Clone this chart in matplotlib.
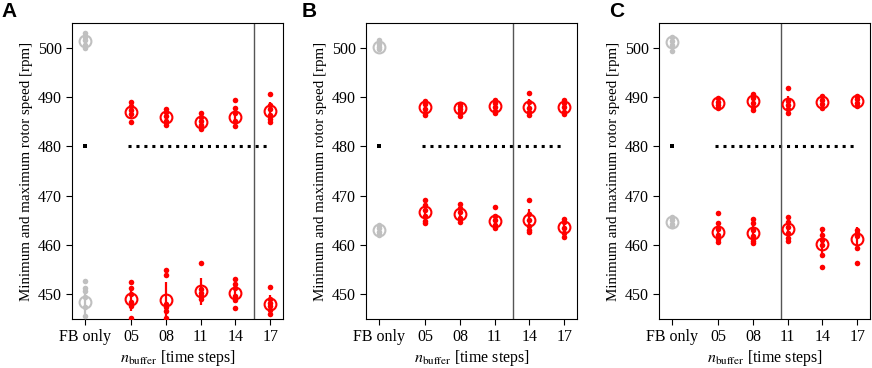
import numpy as np
import matplotlib
matplotlib.use("Agg")
import matplotlib.pyplot as plt

plt.rcParams['font.family'] = ['Liberation Serif', 'DejaVu Serif']
plt.rcParams['mathtext.fontset'] = 'stix'

groups = ["FB only", "05", "08", "11", "14", "17"]
xpos = [1, 5, 8, 11, 14, 17]
panel_letters = ["A", "B", "C"]
vline_x = [15.6, 12.6, 10.45]
target = 480

# individual runs, maximum rotor speed [rpm]
upper_A = [[502.9, 502.2, 501.5, 500.6, 499.9],
           [488.9, 488.2, 487.4, 486.5, 485.0],
           [487.6, 487.0, 486.2, 485.2, 484.4],
           [486.7, 486.0, 485.2, 484.3, 483.6],
           [489.3, 487.8, 486.8, 485.2, 484.2],
           [490.6, 488.3, 487.6, 486.4, 485.6, 484.9]]
upper_B = [[501.6, 500.8, 500.2, 499.8],
           [489.2, 488.6, 487.6, 486.8, 486.4],
           [488.6, 488.2, 487.6, 486.9, 486.1],
           [489.3, 488.8, 487.9, 487.2, 486.8],
           [490.9, 488.9, 487.8, 487.0, 486.4],
           [489.4, 488.7, 487.9, 487.0, 486.6]]
upper_C = [[502.1, 501.4, 500.6, 499.4],
           [489.7, 489.0, 488.4, 487.8],
           [490.6, 489.8, 488.7, 487.9, 487.4],
           [491.9, 489.2, 488.3, 487.5, 486.8],
           [490.2, 489.4, 488.5, 487.7],
           [490.3, 489.6, 488.8, 488.2]]

# individual runs, minimum rotor speed [rpm]
lower_A = [[452.8, 451.2, 450.6, 449.5, 447.5, 445.6],
           [452.6, 451.3, 450.0, 448.4, 447.6, 445.2],
           [455.0, 453.9, 448.1, 447.4, 446.7, 445.2],
           [456.4, 451.0, 450.2, 449.6, 449.0],
           [453.2, 452.1, 451.2, 449.6, 448.8, 447.3],
           [451.4, 449.0, 448.3, 447.6, 446.8, 446.0]]
lower_B = [[464.0, 463.4, 462.6, 462.0],
           [469.1, 468.2, 467.0, 465.8, 464.9, 464.4],
           [468.4, 467.6, 466.6, 465.4, 464.7],
           [467.8, 465.9, 465.0, 464.1, 463.5],
           [469.2, 466.3, 465.0, 463.9, 463.1, 462.7],
           [465.2, 464.6, 463.4, 462.4, 461.7]]
lower_C = [[465.6, 465.0, 464.2, 463.8],
           [466.5, 464.4, 463.2, 462.0, 461.2, 460.6],
           [465.2, 464.4, 463.0, 461.8, 460.9, 460.4],
           [465.6, 464.6, 463.6, 462.4, 461.4, 460.8],
           [463.3, 462.0, 461.0, 460.0, 457.9, 455.6],
           [463.0, 462.5, 461.8, 459.4, 456.4]]

# averages shown as open circles
mean_upper = [[501.4, 487.0, 486.0, 485.0, 486.0, 487.1],
              [500.2, 487.9, 487.8, 488.1, 488.0, 488.0],
              [501.1, 488.8, 489.1, 488.5, 488.9, 489.2]]
mean_lower = [[448.5, 449.1, 448.8, 450.6, 450.3, 448.1],
              [463.1, 466.7, 466.3, 464.8, 465.1, 463.6],
              [464.7, 462.7, 462.4, 463.2, 460.3, 461.2]]

uppers = [upper_A, upper_B, upper_C]
lowers = [lower_A, lower_B, lower_C]

fig = plt.figure(figsize=(8.72, 3.68), dpi=100)
lefts = [72 / 872, 366 / 872, 659 / 872]
letter_x = [0.002, 0.346, 0.699]

for p in range(3):
    ax = fig.add_axes([lefts[p], 1 - 319 / 368, 211 / 872, 296 / 368])
    for i in range(len(groups)):
        col = "#c0c0c0" if i == 0 else "red"
        for runs, m in [(uppers[p][i], mean_upper[p][i]), (lowers[p][i], mean_lower[p][i])]:
            ax.plot([xpos[i]] * len(runs), runs, "o", color=col, ms=4, mew=0, zorder=3)
            ax.errorbar(xpos[i], m, yerr=np.std(runs), fmt="o", color=col, ms=8.5,
                        mfc="none", mew=1.5, elinewidth=1.6, capsize=0, zorder=4)
    ax.plot([xpos[0]], [target], "s", color="k", ms=2.2, mew=0)
    ax.plot([4.7, 17.1], [target, target], color="k", lw=2.2,
            linestyle=(0, (1, 1.6)))
    ax.axvline(vline_x[p], color="#555555", lw=1)
    ax.set_xlim(-0.1, 18.1)
    ax.set_ylim(445, 505)
    ax.set_yticks([450, 460, 470, 480, 490, 500])
    ax.set_xticks(xpos)
    ax.set_xticklabels(groups)
    ax.tick_params(labelsize=11.5, direction="out", length=4)
    ax.set_xlabel(r"$n_{\mathrm{buffer}}$ [time steps]", fontsize=11.5, labelpad=2)
    ax.set_ylabel("Minimum and maximum rotor speed [rpm]", fontsize=10.8, labelpad=3)
    fig.text(letter_x[p], 0.995, panel_letters[p], fontsize=15, fontweight="bold",
             family="Liberation Sans", va="top", ha="left")

fig.savefig("out.png", dpi=100)
